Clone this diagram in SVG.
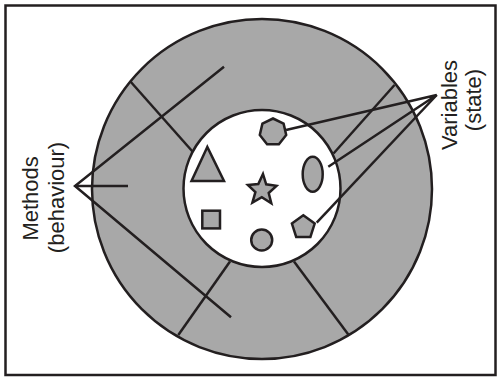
<svg xmlns="http://www.w3.org/2000/svg" width="497" height="377" viewBox="0 0 497 377">
<style>
.ln{stroke:#231f20;stroke-width:2.5;fill:none;stroke-linecap:butt}
.sh{fill:#a8a8a8;stroke:#231f20;stroke-width:2.5;stroke-linejoin:miter}
.lbl{font-family:"Liberation Sans",Arial,sans-serif;font-size:22px;fill:#231f20;text-anchor:middle}
</style>
<rect x="0" y="0" width="497" height="377" fill="#ffffff"/>
<rect id="frame" x="5.5" y="5.5" width="490" height="369.5" fill="none" stroke="#231f20" stroke-width="2.5"/>
<g id="object">
<circle cx="262" cy="189" r="170" fill="#a8a8a8" stroke="#231f20" stroke-width="2.5"/>
<circle cx="262" cy="188.5" r="78.5" fill="#ffffff" stroke="#231f20" stroke-width="2.5"/>
</g>
<g id="dividers">
<line class="ln" x1="130" y1="81" x2="192.5" y2="151.5"/>
<line class="ln" x1="394.5" y1="85" x2="333.5" y2="153.5"/>
<line class="ln" x1="230" y1="261.5" x2="178.3" y2="335"/>
<line class="ln" x1="294" y1="261.5" x2="348.3" y2="334.5"/>
</g>
<g id="variables">
<polygon id="heptagon" class="sh" points="273,118.5 283.6,123.6 286.2,135 278.9,144.2 267.1,144.2 259.8,135 262.4,123.6"/>
<polygon id="triangle" class="sh" points="207.3,147 191.5,181 224,181"/>
<polygon id="star" class="sh" points="263,174 266.2,184.3 276.5,185.8 268.7,193 271.3,203.3 261.8,197.2 252.4,202.6 255.4,192.2 247.9,185 258.3,184.1"/>
<ellipse id="ellipse" class="sh" cx="312.7" cy="174.3" rx="10" ry="17.5"/>
<rect id="square" class="sh" x="202.3" y="210.7" width="17.7" height="17.7"/>
<circle id="circle" class="sh" cx="261.7" cy="240" r="10.5"/>
<polygon id="pentagon" class="sh" points="303.3,215.3 314.7,223.6 310.4,237 296.2,237 291.9,223.6"/>
</g>
<g id="connectors">
<polyline class="ln" points="224,66.7 75,186 231,317.3"/>
<line class="ln" x1="75" y1="186" x2="128" y2="186"/>
<polyline class="ln" points="286,130 436.7,95 328.3,166.7"/>
<line class="ln" x1="436.7" y1="95" x2="316.7" y2="222.7"/>
</g>
<g id="label-methods">
<text class="lbl" transform="translate(38.3,198.4) rotate(-90)">Methods</text>
<text class="lbl" transform="translate(64.3,197.5) rotate(-90)">(behaviour)</text>
</g>
<g id="label-variables">
<text class="lbl" transform="translate(456.7,105) rotate(-90)">Variables</text>
<text class="lbl" transform="translate(481,100) rotate(-90)">(state)</text>
</g>
</svg>
